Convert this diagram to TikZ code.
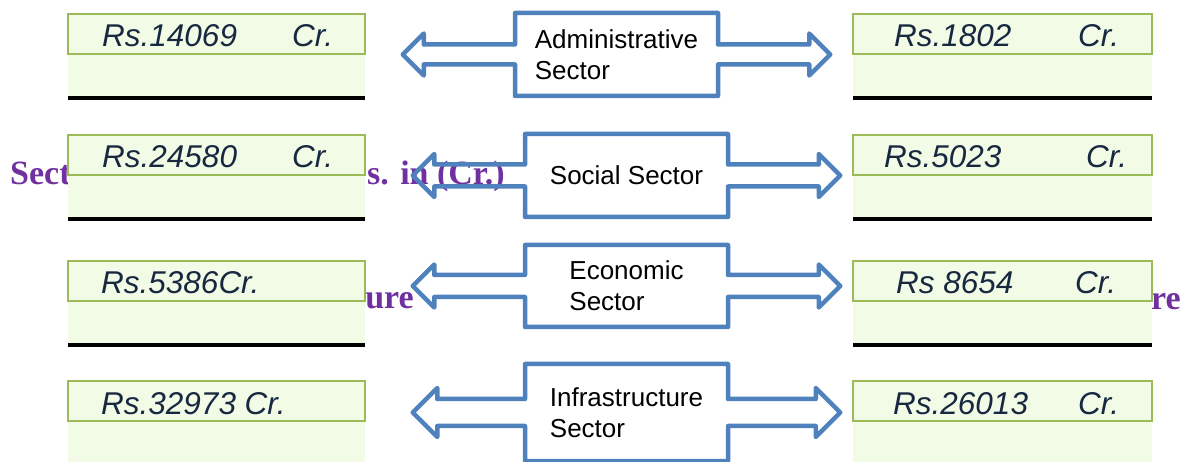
\documentclass[tikz,border=0pt]{standalone}
\usepackage{fontspec}
\setmainfont{Liberation Sans}
\newfontfamily\headfont{Liberation Serif}
\usepackage{tikz}
\usetikzlibrary{shapes.arrows}
\definecolor{cellgreen}{RGB}{155,187,89}
\definecolor{cellfill}{RGB}{242,251,230}
\definecolor{sectorblue}{RGB}{79,129,189}
\definecolor{amountnavy}{RGB}{23,40,64}
\definecolor{headpurple}{RGB}{112,48,160}
\tikzstyle{valcell} = [draw=cellgreen, line width=2pt, fill=cellfill, minimum width=297pt, minimum height=40pt, inner sep=0pt]
\tikzstyle{amount} = [text=amountnavy, inner sep=0pt, font=\fontsize{31.5}{35}\selectfont\itshape]
\tikzstyle{sector} = [shape=arrow box, draw=sectorblue, line width=4.5pt, line join=round, align=left, inner sep=0pt, minimum width=203pt, arrow box tip angle=90, arrow box arrows={west:110pt, east:110pt}, font=\fontsize{26}{31}\selectfont]
\tikzstyle{headtext} = [text=headpurple, inner sep=0pt, font=\headfont\fontsize{34}{38}\selectfont\bfseries]

\begin{document}
\begin{tikzpicture}[x=1pt,y=-1pt]
\useasboundingbox (0,0) rectangle (1187,462);
\clip (0,0) rectangle (1187,462);

% heading text left behind the boxes
\node[headtext, anchor=base west] (headl) at (10,185) {Sect};
\node[headtext, anchor=base west] (headr) at (367,185) {s. in (Cr.)};
\node[headtext, anchor=base east] (revl) at (414,309) {ure};
\node[headtext, anchor=base east] (capr) at (1181,310) {re};

% lower part of each value box
\foreach \lx/\rx in {68/365,853/1152}
\foreach \t in {14,135,261,381}
{
\fill[cellfill] (\lx,\t+40) rectangle (\rx,\t+82);
\draw[line width=4pt] (\lx,\t+84) -- (\rx,\t+84);
}

% value cells
\foreach \nm/\t in {1/14,2/135,3/261,4/381}
{
\node[valcell] (left\nm) at (216.5,\t+20) {};
\node[valcell, minimum width=299pt] (right\nm) at (1002.5,\t+20) {};
}

% amounts
\foreach \nm/\ax/\t/\amt in {la1/102/14/Rs.14069, la2/102/135/Rs.24580, la3/101/261/Rs.5386Cr., la4/101/381/Rs.32973 Cr., ra1/894/14/Rs.1802, ra2/884/135/Rs.5023, ra3/896/261/Rs 8654, ra4/893/381/Rs.26013}
\node[amount, anchor=base west] (\nm) at (\ax,\t+33) {\amt};

\foreach \nm/\cx/\t in {lc1/292/14, lc2/292/135, rc1/1078/14, rc2/1086/135, rc3/1075/261, rc4/1078/381}
\node[amount, anchor=base west] (\nm) at (\cx,\t+33) {Cr.};

% sectors
\node[sector, minimum height=83pt, arrow box shaft width=20pt, arrow box head extend=11pt] (admin) at (616.5,54.5) {Administrative\\Sector};
\node[sector, minimum height=83pt, arrow box shaft width=22pt, arrow box head extend=10.5pt] (social) at (626.5,175.5) {Social Sector};
\node[sector, minimum height=82pt, arrow box shaft width=22pt, arrow box head extend=10.5pt] (economic) at (626.5,286) {Economic\\Sector};
\node[sector, minimum height=97pt, arrow box shaft width=27pt, arrow box head extend=11pt] (infra) at (626.5,412.5) {Infrastructure\\Sector};
\end{tikzpicture}
\end{document}
